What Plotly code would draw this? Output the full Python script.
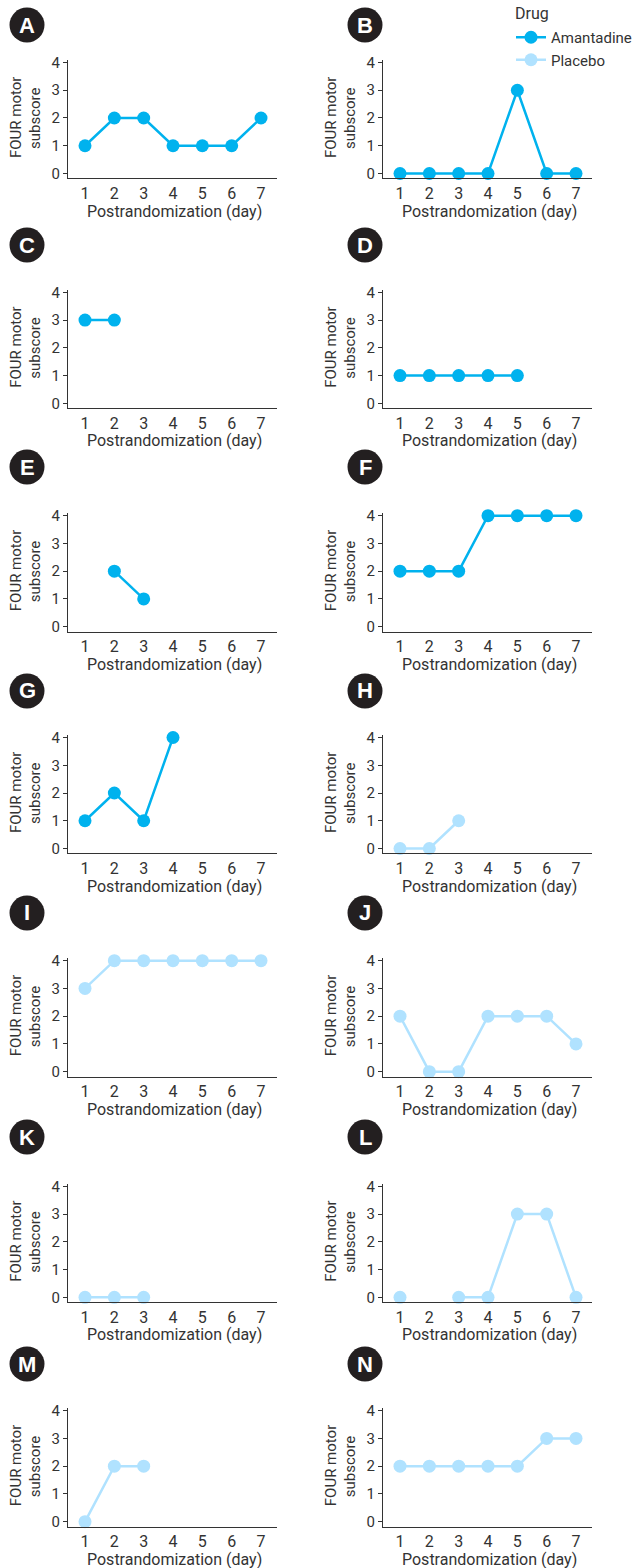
import plotly.graph_objects as go

# ---------------- data ----------------
days = [1, 2, 3, 4, 5, 6, 7]
y_ticks = [0, 1, 2, 3, 4]
panel_labels = ["A", "B", "C", "D", "E", "F", "G", "H", "I", "J", "K", "L", "M", "N"]
panel_drug = ["Amantadine"] * 7 + ["Placebo"] * 7

score_A = [1, 2, 2, 1, 1, 1, 2]
score_B = [0, 0, 0, 0, 3, 0, 0]
score_C = [3, 3, None, None, None, None, None]
score_D = [1, 1, 1, 1, 1, None, None]
score_E = [None, 2, 1, None, None, None, None]
score_F = [2, 2, 2, 4, 4, 4, 4]
score_G = [1, 2, 1, 4, None, None, None]
score_H = [0, 0, 1, None, None, None, None]
score_I = [3, 4, 4, 4, 4, 4, 4]
score_J = [2, 0, 0, 2, 2, 2, 1]
score_K = [0, 0, 0, None, None, None, None]
score_L = [0, None, 0, 0, 3, 3, 0]
score_M = [0, 2, 2, None, None, None, None]
score_N = [2, 2, 2, 2, 2, 3, 3]
scores = [score_A, score_B, score_C, score_D, score_E, score_F, score_G,
          score_H, score_I, score_J, score_K, score_L, score_M, score_N]

drug_colors = {"Amantadine": "#00B2EE", "Placebo": "#B0E2FF"}

# ---------------- layout geometry (pixels) ----------------
W, H = 633, 1568
col_x = [(68, 277), (383, 592)]          # plot-area left/right per column
row_y0 = [173.5, 403.3, 626.7, 848.5, 1071.7, 1297.3, 1521.7]  # pixel y of value 0
unit = 27.75
y_lo, y_hi = -0.18, 4.1
x_lo, x_hi = 0.42, 7.545
badge_y = [25, 245, 467, 691, 913, 1137, 1364]
badge_x = [27, 365]
badge_r = 17.5

TXT = "#333333"
FONT = "Roboto, Noto Sans, sans-serif"
REG = "Liberation Sans, Arial, sans-serif"

fig = go.Figure()
layout = dict(width=W, height=H, margin=dict(l=0, r=0, t=0, b=0, autoexpand=False),
              paper_bgcolor="white", plot_bgcolor="white", showlegend=True)
shapes, annotations = [], []
legend_done = set()

for i, lab in enumerate(panel_labels):
    row, col = divmod(i, 2)
    k = i + 1
    xa = "xaxis" if k == 1 else f"xaxis{k}"
    ya = "yaxis" if k == 1 else f"yaxis{k}"
    xr = "x" if k == 1 else f"x{k}"
    yr = "y" if k == 1 else f"y{k}"
    y0 = row_y0[row]
    top_px = y0 - y_hi * unit
    bot_px = y0 - y_lo * unit
    xl, xrgt = col_x[col]
    layout[xa] = dict(domain=[xl / W, xrgt / W], range=[x_lo, x_hi], anchor=yr,
                      tickvals=days, ticktext=[str(d) for d in days],
                      showline=True, linecolor="#333333", linewidth=1.2,
                      showgrid=False, zeroline=False, ticks="",
                      tickfont=dict(family=FONT, size=16, color=TXT),
                      fixedrange=True)
    layout[ya] = dict(domain=[1 - bot_px / H, 1 - top_px / H], range=[y_lo, y_hi], anchor=xr,
                      tickvals=y_ticks, showline=True, linecolor="#333333", linewidth=1.2,
                      showgrid=False, zeroline=False, ticks="outside", ticklen=4,
                      tickcolor="#333333", tickwidth=1.2,
                      tickfont=dict(family=FONT, size=15, color=TXT), fixedrange=True)
    drug = panel_drug[i]
    show = drug not in legend_done
    legend_done.add(drug)
    fig.add_trace(go.Scatter(x=days, y=scores[i], mode="lines+markers", name=drug,
                             legendgroup=drug, showlegend=show, connectgaps=False,
                             cliponaxis=False,
                             line=dict(color=drug_colors[drug], width=2.5),
                             marker=dict(color=drug_colors[drug], size=13),
                             xaxis=xr, yaxis=yr))
    # badge
    cx, cy = badge_x[col], badge_y[row]
    shapes.append(dict(type="circle", xref="paper", yref="paper",
                       x0=(cx - badge_r) / W, x1=(cx + badge_r) / W,
                       y0=1 - (cy + badge_r) / H, y1=1 - (cy - badge_r) / H,
                       fillcolor="#231F20", line=dict(width=0)))
    annotations.append(dict(text=f"<b>{lab}</b>", x=cx / W, y=1 - cy / H, xref="paper", yref="paper",
                            showarrow=False, xanchor="center", yanchor="middle",
                            font=dict(family=REG, size=22, color="white")))
    # axis titles
    mid = (y0 + (y0 - 4 * unit)) / 2
    annotations.append(dict(text="FOUR motor", x=(16 + 315 * col) / W, y=1 - mid / H,
                            xref="paper", yref="paper", showarrow=False, textangle=-90,
                            xanchor="center", yanchor="middle",
                            font=dict(family=FONT, size=15, color=TXT)))
    annotations.append(dict(text="subscore", x=(35 + 315 * col) / W, y=1 - mid / H,
                            xref="paper", yref="paper", showarrow=False, textangle=-90,
                            xanchor="center", yanchor="middle",
                            font=dict(family=FONT, size=15, color=TXT)))
    annotations.append(dict(text="Postrandomization (day)", x=((xl + xrgt) / 2 + 2) / W,
                            y=1 - (y0 + 37.5) / H, xref="paper", yref="paper",
                            showarrow=False, xanchor="center", yanchor="middle",
                            font=dict(family=FONT, size=16, color=TXT)))

# legend title
annotations.append(dict(text="Drug", x=513 / W, y=1 - 13 / H, xref="paper", yref="paper",
                        showarrow=False, xanchor="left", yanchor="middle",
                        font=dict(family=FONT, size=16, color=TXT)))

layout["shapes"] = shapes
layout["annotations"] = annotations
layout["legend"] = dict(x=511 / W, y=1 - 21 / H, xanchor="left", yanchor="top",
                        bgcolor="rgba(0,0,0,0)", borderwidth=0, itemwidth=30,
                        font=dict(family=FONT, size=15, color=TXT), tracegroupgap=0)
fig.update_layout(**layout)
fig.write_html("out.html", config={"displayModeBar": False},
               post_script="document.body.style.margin='0';document.body.style.overflow='hidden';")
